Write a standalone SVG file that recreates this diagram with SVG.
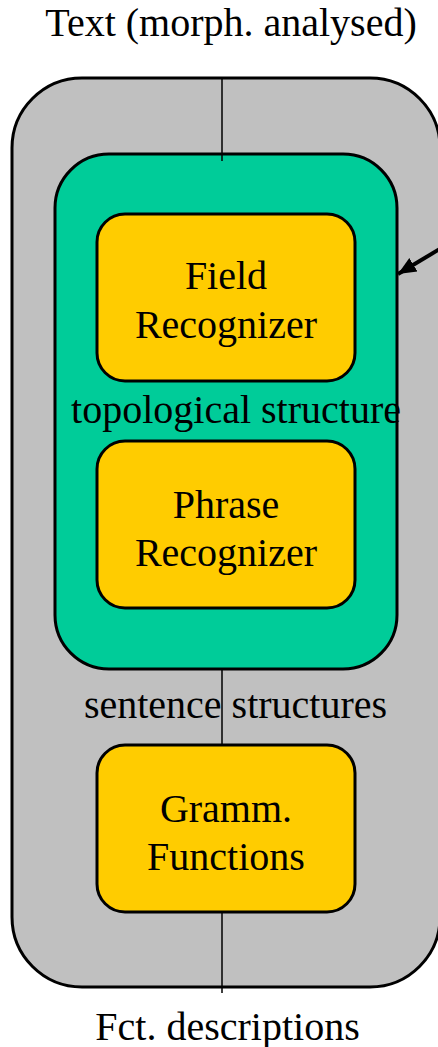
<svg xmlns="http://www.w3.org/2000/svg" width="438" height="1047" viewBox="0 0 438 1047">
<style>
text{font-family:"Liberation Serif","Times New Roman",serif;font-size:40px;fill:#000;text-anchor:middle}
.box{stroke:#000;stroke-width:3}
.y{fill:#ffcc00}
.ln{stroke:#000;stroke-width:1.5;fill:none}
</style>
<defs>
<marker id="ah" markerWidth="20" markerHeight="18" refX="18" refY="9" orient="auto" markerUnits="userSpaceOnUse">
<path d="M0,1 L18,9 L0,17 z" fill="#000"/>
</marker>
</defs>
<rect width="438" height="1047" fill="#fff"/>
<g id="outer">
<rect class="box" x="12" y="78" width="428" height="909" rx="70" ry="70" fill="#c0c0c0"/>
</g>
<g id="green">
<rect class="box" x="55" y="154" width="342" height="515" rx="54" ry="54" fill="#00cc99"/>
</g>
<g id="connectors">
<line class="ln" x1="222" y1="78" x2="222" y2="161"/>
<line class="ln" x1="222" y1="669" x2="222" y2="752"/>
<line class="ln" x1="222" y1="912" x2="222" y2="993"/>
<line x1="448" y1="244" x2="398" y2="274" stroke="#000" stroke-width="4" marker-end="url(#ah)"/>
</g>
<g id="field">
<rect class="box y" x="97" y="214" width="258" height="167" rx="28" ry="28"/>
<text x="226" y="289">Field</text>
<text x="226" y="338">Recognizer</text>
</g>
<g id="phrase">
<rect class="box y" x="97" y="441" width="258" height="167" rx="28" ry="28"/>
<text x="226" y="518">Phrase</text>
<text x="226" y="566">Recognizer</text>
</g>
<g id="gramm">
<rect class="box y" x="97" y="745" width="258" height="167" rx="28" ry="28"/>
<text x="226" y="822">Gramm.</text>
<text x="226" y="870">Functions</text>
</g>
<g id="labels">
<text x="231" y="36">Text (morph. analysed)</text>
<text x="236" y="423">topological structure</text>
<text x="235.5" y="718">sentence structures</text>
<text x="227.5" y="1040">Fct. descriptions</text>
</g>
</svg>
